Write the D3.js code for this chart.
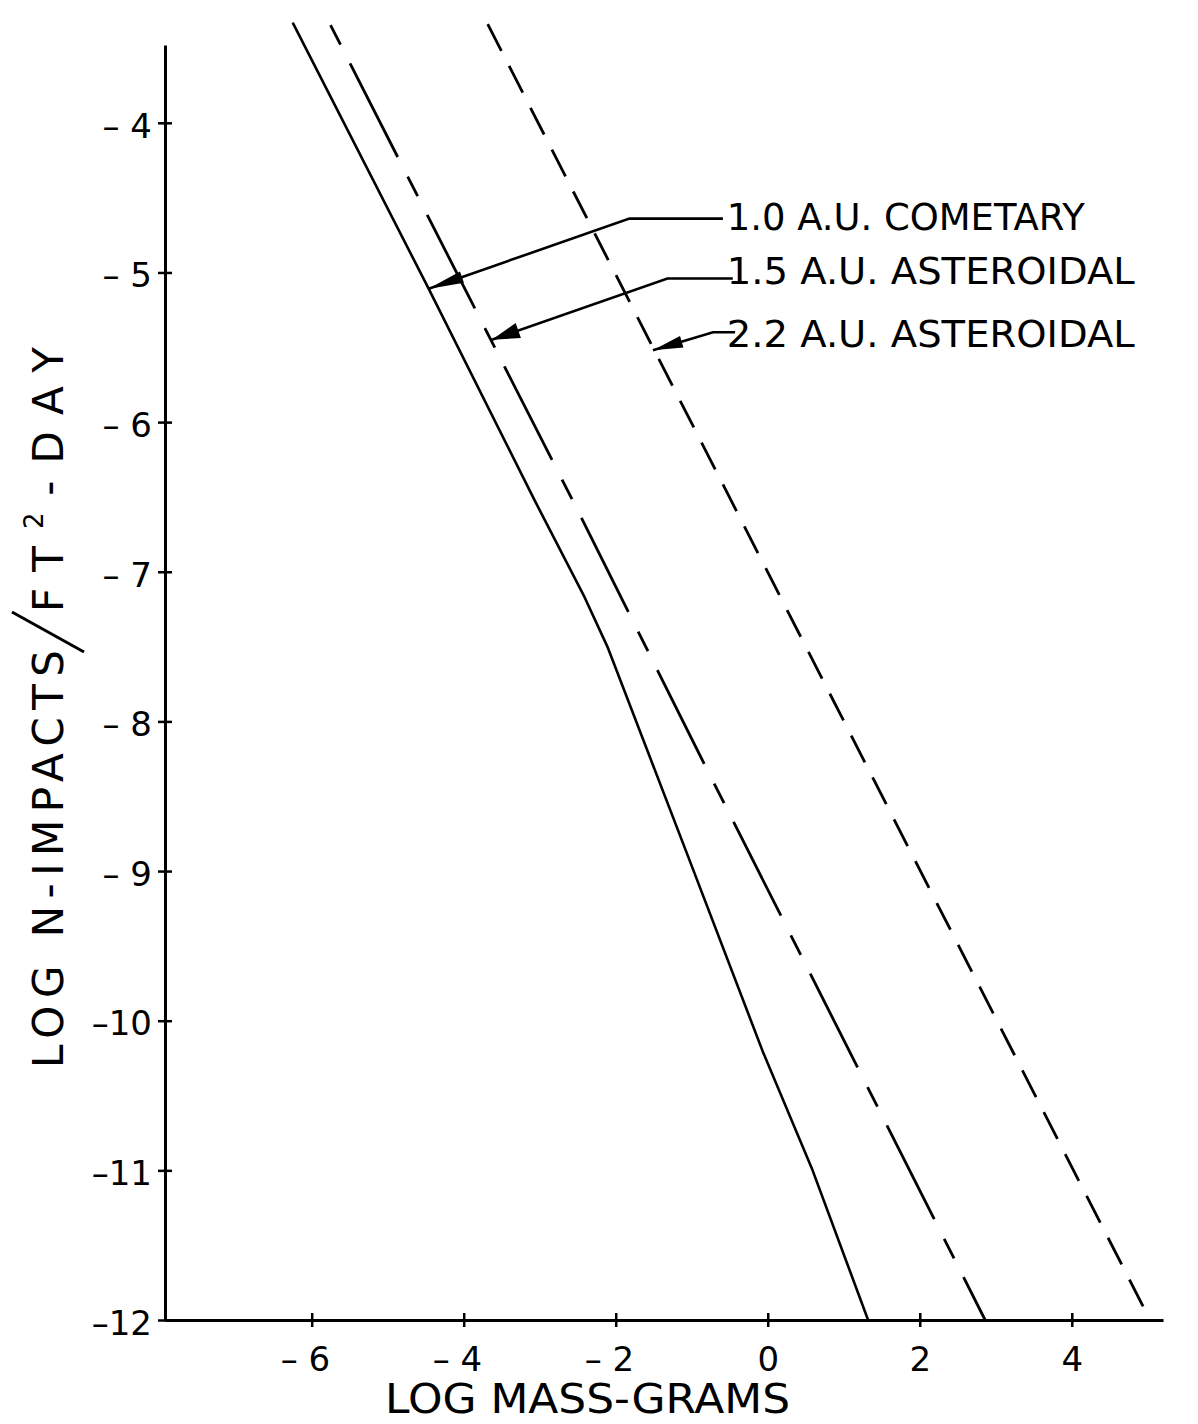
<!DOCTYPE html>
<html>
<head>
<meta charset="utf-8">
<script src="https://cdn.jsdelivr.net/npm/d3@7"></script>
<style>
  body { margin: 0; background: #fff; }
  text { font-family: "DejaVu Sans", "Liberation Sans", sans-serif; fill: #000; }
</style>
</head>
<body>
<svg id="chart" width="1198" height="1424"></svg>
<script>
// Tick values for both axes
const massTicks = [-6, -4, -2, 0, 2, 4];
const fluxTicks = [-4, -5, -6, -7, -8, -9, -10, -11, -12];

// Series names
const seriesNames = ["1.0 A.U. COMETARY", "1.5 A.U. ASTEROIDAL", "2.2 A.U. ASTEROIDAL"];

// 1.0 A.U. cometary flux (log mass, log impacts per ft^2 per day)
const cometaryMass = [-6.25, -4.47, -3.07, -2.41, -2.11, -1.08, -0.07, 0.59, 1.32];
const cometaryFlux = [-3.33, -5.10, -6.52, -7.17, -7.50, -8.86, -10.20, -11.00, -12.0];

// 1.5 A.U. asteroidal flux
const asteroid15Mass = [-5.86, -2.53, -0.83, 1.16, 2.86];
const asteroid15Flux = [-3.24, -6.56, -8.29, -10.29, -12.0];

// 2.2 A.U. asteroidal flux
const asteroid22Mass = [-3.78, 2.22, 5.03];
const asteroid22Flux = [-3.245, -9.21, -12.0];

// Leader lines: label end -> knee -> arrow tip, in data units
const leaderMass = [[-0.59, -1.82, -4.47], [-0.46, -1.32, -3.63], [-0.43, -0.72, -1.51]];
const leaderFlux = [[-4.64, -4.64, -5.11], [-5.04, -5.04, -5.45], [-5.40, -5.40, -5.52]];
// Label anchor (start of text baseline), in data units
const labelMass = [-0.54, -0.54, -0.54];
const labelFlux = [-4.715, -5.076, -5.497];

const svg = d3.select("#chart");

const x = d3.scaleLinear().domain([-7.93, 5.2]).range([165, 1163]);
const y = d3.scaleLinear().domain([-12, -3.48]).range([1320, 45]);

// Hand-lettered style: short dash, a space before single digits
const fmt = v => v < 0 ? "\u2013" + (Math.abs(v) < 10 ? " " : "") + Math.abs(v) : String(v);

// Y axis
const yAxis = svg.append("g")
  .attr("transform", `translate(${x(-7.93)},0)`)
  .call(d3.axisLeft(y).tickValues(fluxTicks).tickSize(7).tickSizeOuter(0).tickPadding(6).tickFormat(fmt));
yAxis.select(".domain").attr("stroke", "#000").attr("stroke-width", 3);
yAxis.selectAll(".tick line").attr("x1", 7).attr("stroke", "#000").attr("stroke-width", 2.5);
yAxis.selectAll(".tick text")
  .attr("font-size", 34).attr("font-family", "DejaVu Sans").attr("fill", "#000")
  .attr("dy", "0.42em")
  .style("white-space", "pre");

// X axis
const xAxis = svg.append("g")
  .attr("transform", `translate(0,${y(-12)})`)
  .call(d3.axisBottom(x).tickValues(massTicks).tickSize(7).tickSizeOuter(0).tickPadding(20).tickFormat(fmt));
xAxis.select(".domain").attr("stroke", "#000").attr("stroke-width", 3);
xAxis.selectAll(".tick line").attr("y1", -7).attr("stroke", "#000").attr("stroke-width", 2.5);
xAxis.selectAll(".tick text")
  .attr("font-size", 34).attr("font-family", "DejaVu Sans").attr("fill", "#000")
  .style("white-space", "pre")
  .attr("text-anchor", d => d < 0 ? "end" : "middle")
  .attr("x", d => d < 0 ? 18 : 0);

// Axis titles
svg.append("text")
  .attr("x", 385).attr("y", 1413)
  .attr("font-size", 40)
  .attr("textLength", 405).attr("lengthAdjust", "spacingAndGlyphs")
  .text("LOG MASS-GRAMS");

const yTitleA = svg.append("text")
  .attr("transform", "translate(63,1068) rotate(-90)")
  .attr("font-size", 42)
  .attr("textLength", 418).attr("lengthAdjust", "spacing")
  .text("LOG N-IMPACTS");
svg.append("line")
  .attr("x1", 84).attr("y1", 652).attr("x2", 12).attr("y2", 612)
  .attr("stroke", "#000").attr("stroke-width", 3);
const yTitleB = svg.append("text")
  .attr("transform", "translate(63,612) rotate(-90)")
  .attr("font-size", 42)
  .attr("textLength", 265).attr("lengthAdjust", "spacing");
yTitleB.append("tspan").text("FT");
yTitleB.append("tspan").attr("font-size", 26).attr("dy", -20).text("2");
yTitleB.append("tspan").attr("dy", 20).text("-DAY");

// Curves
const line = d3.line().x(d => x(d[0])).y(d => y(d[1]));
const series = [
  { mass: cometaryMass, flux: cometaryFlux, dash: null, offset: 0, width: 2.6 },
  { mass: asteroid15Mass, flux: asteroid15Flux, dash: "105,22,22,21", offset: 109, width: 2.8 },
  { mass: asteroid22Mass, flux: asteroid22Flux, dash: "30,17", offset: 31, width: 2.8 }
];
series.forEach(s => {
  svg.append("path")
    .datum(s.mass.map((m, i) => [m, s.flux[i]]))
    .attr("d", line)
    .attr("fill", "none")
    .attr("stroke", "#000")
    .attr("stroke-width", s.width)
    .attr("stroke-linejoin", "round")
    .attr("stroke-dasharray", s.dash)
    .attr("stroke-dashoffset", s.offset);
});

// Leader lines with filled arrowheads
const headLen = [36, 28, 30];
const headHalf = [6, 8, 6];
leaderMass.forEach((ms, k) => {
  const pts = ms.map((m, i) => [m, leaderFlux[k][i]]);
  svg.append("path")
    .datum(pts)
    .attr("d", line)
    .attr("fill", "none")
    .attr("stroke", "#000")
    .attr("stroke-width", 2.6);
  const tip = [x(pts[2][0]), y(pts[2][1])];
  const knee = [x(pts[1][0]), y(pts[1][1])];
  const dx = knee[0] - tip[0], dy = knee[1] - tip[1];
  const len = Math.hypot(dx, dy);
  const ux = dx / len, uy = dy / len;
  const bx = tip[0] + ux * headLen[k], by = tip[1] + uy * headLen[k];
  const px = -uy * headHalf[k], py = ux * headHalf[k];
  svg.append("path")
    .attr("d", `M${tip[0]},${tip[1]}L${bx + px},${by + py}L${bx - px},${by - py}Z`)
    .attr("fill", "#000");
});

// Series labels
const labelWidths = [358, 408, 408];
seriesNames.forEach((name, k) => {
  svg.append("text")
    .attr("x", x(labelMass[k])).attr("y", y(labelFlux[k]))
    .attr("font-size", 37)
    .attr("textLength", labelWidths[k]).attr("lengthAdjust", "spacingAndGlyphs")
    .text(name);
});
</script>
</body>
</html>
